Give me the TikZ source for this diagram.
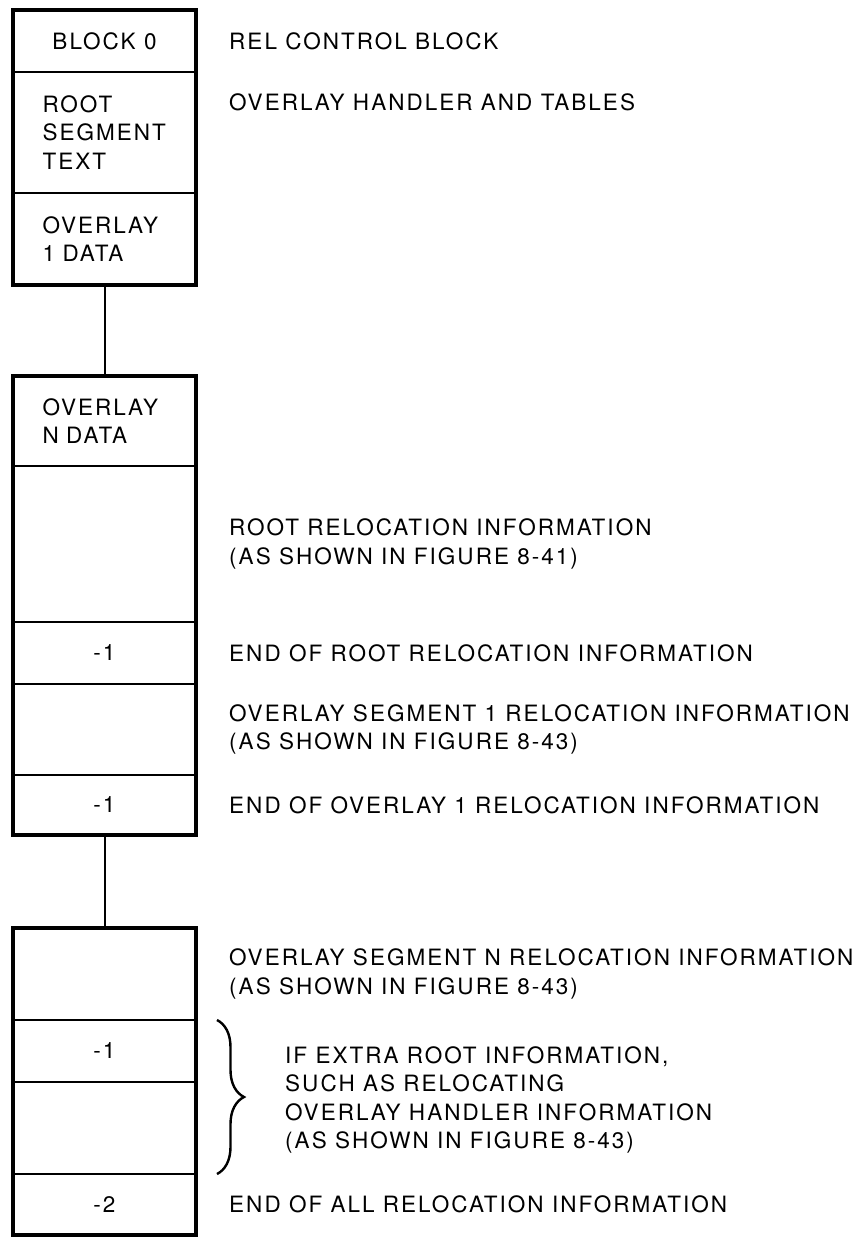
\documentclass[tikz,border=0pt]{standalone}
\usepackage{fontspec}
\setmainfont{TeX Gyre Heros}[LetterSpace=9]
\usetikzlibrary{positioning,decorations.pathreplacing}

\tikzset{
    cell/.style={draw, line width=2.2pt, minimum width=183pt, inner sep=0pt,
                 outer sep=0pt, align=center},
    tcell/.style={cell, align=left, text width=124pt, inner xsep=29.5pt},
    blockframe/.style={line width=3.4pt},
    link/.style={line width=2pt},
    note/.style={inner sep=0pt, align=left},
    bracel/.style={decorate, decoration={brace, amplitude=27pt}, line width=2.4pt}
}

\begin{document}
\begin{tikzpicture}[x=1pt, y=-1pt, font=\fontsize{22.5pt}{28.5pt}\selectfont]
    \useasboundingbox (0,0) rectangle (861,1237);

    \node[cell, minimum height=62pt, anchor=north] (blk0) at (104.5,10) {BLOCK 0};
    \node[tcell, minimum height=121pt, below=0pt of blk0] (rootseg) {ROOT\\SEGMENT\\TEXT};
    \node[tcell, minimum height=92pt, below=0pt of rootseg] (ovl1data) {OVERLAY\\1 DATA};
    \draw[blockframe] (blk0.north west) rectangle (ovl1data.south east);

    \node[tcell, minimum height=90pt, below=91pt of ovl1data] (ovlndata) {OVERLAY\\N DATA};
    \node[cell, minimum height=156pt, below=0pt of ovlndata] (rootrel) {};
    \node[cell, minimum height=62pt, below=0pt of rootrel] (rootend) {-1};
    \node[cell, minimum height=91pt, below=0pt of rootend] (seg1rel) {};
    \node[cell, minimum height=60pt, below=0pt of seg1rel] (seg1end) {-1};
    \draw[blockframe] (ovlndata.north west) rectangle (seg1end.south east);

    \node[cell, minimum height=92pt, below=93pt of seg1end] (segnrel) {};
    \node[cell, minimum height=62pt, below=0pt of segnrel] (extraend) {-1};
    \node[cell, minimum height=92pt, below=0pt of extraend] (extrarel) {};
    \node[cell, minimum height=61pt, below=0pt of extrarel] (allend) {-2};
    \draw[blockframe] (segnrel.north west) rectangle (allend.south east);

    \draw[link] (ovl1data.south) -- (ovlndata.north);
    \draw[link] (seg1end.south) -- (segnrel.north);

    \node[note, right=33pt of blk0] (relctl) {REL CONTROL BLOCK};
    \node[note, anchor=west] (handler) at ([xshift=33pt, yshift=30pt]rootseg.east)
        {OVERLAY HANDLER AND TABLES};
    \node[note, right=33pt of rootrel] (rootrelnote)
        {ROOT RELOCATION INFORMATION\\(AS SHOWN IN FIGURE 8-41)};
    \node[note, right=33pt of rootend] (rootendnote) {END OF ROOT RELOCATION INFORMATION};
    \node[note, right=33pt of seg1rel] (seg1relnote)
        {OVERLAY SEGMENT 1 RELOCATION INFORMATION\\(AS SHOWN IN FIGURE 8-43)};
    \node[note, right=33pt of seg1end] (seg1endnote) {END OF OVERLAY 1 RELOCATION INFORMATION};
    \node[note, right=33pt of segnrel] (segnrelnote)
        {OVERLAY SEGMENT N RELOCATION INFORMATION\\(AS SHOWN IN FIGURE 8-43)};
    \node[note, right=33pt of allend] (allendnote) {END OF ALL RELOCATION INFORMATION};

    \draw[bracel] ([xshift=21pt]extraend.north east) -- ([xshift=21pt]extrarel.south east);
    \node[note, anchor=west] (extranote) at ([xshift=89pt, yshift=-18pt]extraend.south east)
        {IF EXTRA ROOT INFORMATION,\\SUCH AS RELOCATING\\OVERLAY HANDLER INFORMATION\\(AS SHOWN IN FIGURE 8-43)};
\end{tikzpicture}
\end{document}
